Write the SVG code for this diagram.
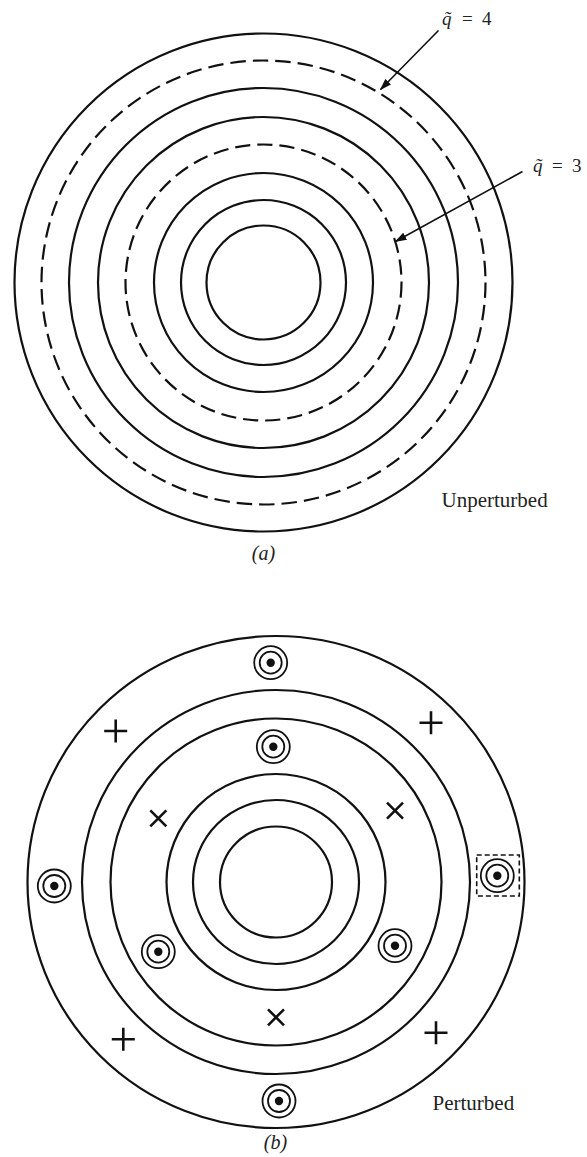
<svg xmlns="http://www.w3.org/2000/svg" width="587" height="1157" viewBox="0 0 587 1157">
<style>
.c{fill:none;stroke:#111;stroke-width:2.2}
.d{fill:none;stroke:#111;stroke-width:2.2;stroke-dasharray:15.5 7}
.d2{fill:none;stroke:#111;stroke-width:2.2;stroke-dasharray:15.2 7}
.ring{fill:none;stroke:#111;stroke-width:1.8}
.dot{fill:#111}
.mk{stroke:#111;stroke-width:2.6;fill:none;stroke-linecap:butt}
.arr{stroke:#111;stroke-width:1.6;fill:none}
.t{font-family:"Liberation Serif","Times New Roman",serif;fill:#222}
.i{font-family:"Liberation Serif","Times New Roman",serif;font-style:italic;fill:#222}
</style>
<defs>
<marker id="ah" viewBox="0 0 12 8" refX="11" refY="4" markerWidth="12" markerHeight="8" markerUnits="userSpaceOnUse" orient="auto">
<path d="M0,0 L12,4 L0,8 Z" fill="#111"/>
</marker>
<g id="island">
<circle class="ring" r="16.5"/>
<circle class="ring" r="11"/>
<circle class="dot" r="4.2"/>
</g>
<path id="plus" class="mk" d="M-11.5,0 H11.5 M0,-11.5 V11.5"/>
<path id="cross" class="mk" d="M-8,-8 L8,8 M-8,8 L8,-8"/>
</defs>
<rect width="587" height="1157" fill="#fff"/>

<g id="fig-a">
<circle id="a-s1" class="c" cx="263.5" cy="282.5" r="249"/>
<circle id="a-q4" class="d" cx="263.5" cy="282.5" r="222"/>
<circle id="a-s2" class="c" cx="263.5" cy="282.5" r="194.5"/>
<circle id="a-s3" class="c" cx="263.5" cy="282.5" r="165.5"/>
<circle id="a-q3" class="d2" cx="263.5" cy="282.5" r="138"/>
<circle id="a-s4" class="c" cx="263.5" cy="282.5" r="109.5"/>
<circle id="a-s5" class="c" cx="263.5" cy="282.5" r="82.5"/>
<circle id="a-s6" class="c" cx="263.5" cy="282.5" r="57"/>
</g>

<g id="connectors">
<line class="arr" x1="438.5" y1="30.5" x2="380.5" y2="89.5" marker-end="url(#ah)"/>
<line class="arr" x1="522.5" y1="171.5" x2="395.5" y2="241.5" marker-end="url(#ah)"/>
</g>

<g id="label-q4" font-size="19">
<text class="i" x="442" y="25">q̃</text>
<text class="t" x="462" y="25">=</text>
<text class="t" x="482" y="25">4</text>
</g>
<g id="label-q3" font-size="19">
<text class="i" x="533" y="171.5">q̃</text>
<text class="t" x="552" y="171.5">=</text>
<text class="t" x="572" y="171.5">3</text>
</g>
<text id="label-unperturbed" class="t" x="441.5" y="506.5" font-size="21">Unperturbed</text>
<text id="label-a" class="i" x="263.5" y="560" font-size="20" text-anchor="middle">(a)</text>

<g id="fig-b">
<ellipse id="b-s1" class="c" cx="276" cy="882" rx="248.5" ry="246"/>
<ellipse id="b-s2" class="c" cx="276" cy="882" rx="194" ry="192"/>
<ellipse id="b-s3" class="c" cx="276" cy="882" rx="165.5" ry="163.5"/>
<ellipse id="b-s4" class="c" cx="276" cy="882" rx="109.5" ry="108"/>
<ellipse id="b-s5" class="c" cx="276" cy="882" rx="83" ry="82"/>
<ellipse id="b-s6" class="c" cx="276" cy="882" rx="56" ry="55.5"/>
</g>

<g id="islands">
<use id="isl-top" href="#island" x="270.7" y="662.7"/>
<use id="isl-top2" href="#island" x="273.3" y="746.7"/>
<use id="isl-left" href="#island" x="54.3" y="886"/>
<use id="isl-right" href="#island" x="497.3" y="875.7"/>
<use id="isl-ll" href="#island" x="158.3" y="951.7"/>
<use id="isl-lr" href="#island" x="395" y="945.7"/>
<use id="isl-bottom" href="#island" x="279" y="1101"/>
<rect id="box" x="476.7" y="855" width="42.6" height="41" fill="none" stroke="#111" stroke-width="1.6" stroke-dasharray="5 3"/>
</g>

<g id="o-points">
<use href="#plus" x="115.7" y="731"/>
<use href="#plus" x="431" y="722.7"/>
<use href="#plus" x="123.3" y="1039.3"/>
<use href="#plus" x="436" y="1032.7"/>
</g>
<g id="x-points">
<use href="#cross" x="158.3" y="818.3"/>
<use href="#cross" x="395" y="810.7"/>
<use href="#cross" x="276" y="1017.3"/>
</g>

<text id="label-perturbed" class="t" x="432.5" y="1109.5" font-size="21">Perturbed</text>
<text id="label-b" class="i" x="275.5" y="1149" font-size="20" text-anchor="middle">(b)</text>
</svg>
